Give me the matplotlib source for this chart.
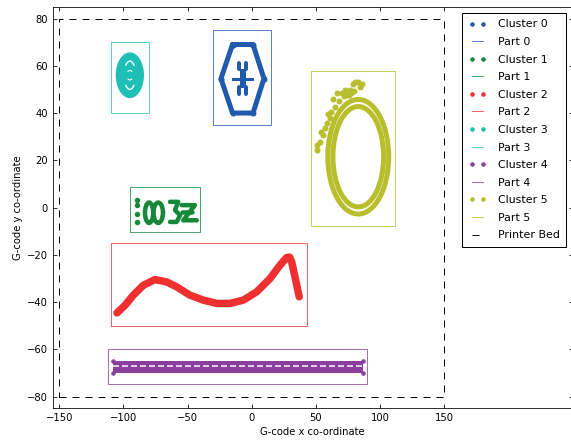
import matplotlib
matplotlib.use("Agg")
import matplotlib.pyplot as plt
from matplotlib.patches import Ellipse, Arc
from matplotlib.lines import Line2D

# =========================================
# DATA
# =========================================
cluster_colors = ["#1f5aab", "#17873a", "#ee3030", "#1fbfb5", "#8a3f9e", "#b8be2c"]
cluster_names = ["Cluster 0", "Cluster 1", "Cluster 2", "Cluster 3", "Cluster 4", "Cluster 5"]
part_names = ["Part 0", "Part 1", "Part 2", "Part 3", "Part 4", "Part 5"]

# bounding boxes of the parts: x0, x1, y0, y1
part_x0 = [-30, -95, -110, -110, -112, 46]
part_x1 = [15, -40, 43, -80, 90, 112]
part_y0 = [35, -10.5, -50, 40, -74.5, -8]
part_y1 = [75, 8.5, -15, 70, -60, 58]

# printer bed
bed_x = [-150, 150, 150, -150, -150]
bed_y = [-80, -80, 80, 80, -80]

# cluster 0 - hexagon with a small flower in the middle
c0_hex_x = [-15, 1, 9.5, 1, -15, -24, -15]
c0_hex_y = [69, 69, 54.6, 40, 40, 54.6, 69]
c0_arm_x = [-14.5, 0.5]
c0_arm_y = [54.6, 54.6]
c0_bar_x = [-7.0, -7.0]
c0_bar_y = [51.8, 57.4]
c0_blob_x = [-9.9, -4.2, -9.9, -4.2]
c0_blob_y = [59.9, 59.9, 49.5, 49.5]

# cluster 1 - dots, two ovals, "3" and "z"
c1_dot_x = [-89.2, -89.2, -89.2, -89.2]
c1_dot_y = [3.1, 1.0, -2.6, -6.1]
c1_oval_x = [-80.0, -72.9]
c1_oval_y = [-2.2, -2.2]
c1_oval_w = [6.4, 7.4]
c1_oval_h = [8.6, 8.6]
c1_three_x = [-63.7, -57.3, -59.8, -55.9, -58.5, -63.7]
c1_three_y = [2.4, 2.4, -1.1, -3.3, -6.1, -6.1]
c1_z_x = [-54.6, -44.3, -53.4, -42.9]
c1_z_y = [1.0, 1.0, -5.4, -5.4]
c1_mid_x = [-54.6, -46.8]
c1_mid_y = [-1.9, -1.9]

# cluster 2 - curve
c2_x = [-105, -98.8, -92.3, -84.5, -75.4, -66.3, -58.5, -48.2, -37.8, -27.3,
        -17.0, -6.6, 3.8, 14.2, 22.0, 27.2, 29.5, 31.1, 33.7, 37.0]
c2_y = [-44.6, -41.4, -37.1, -32.9, -30.5, -31.5, -33.6, -37.1, -39.2, -40.6,
        -40.6, -39.2, -35.7, -30.1, -24.4, -21.2, -21.0, -23.0, -29.4, -37.8]

# cluster 3 - filled oval
c3_cx = -95
c3_cy = 56
c3_w = 22
c3_h = 19.4

# cluster 4 - long bar
c4_x = [-108, 87]
c4_y = [-67.4, -67.4]
c4_corner_x = [-108, 87, -108, 87]
c4_corner_y = [-64.8, -64.8, -70.0, -70.0]

# cluster 5 - double ring with stray points
c5_cx = 83
c5_cy = 21.5
c5_ring_w = [47.5, 39.5]
c5_ring_h = [48.5, 42.5]
c5_stray_x = [51.0, 50.6, 53.2, 55.3, 53.7, 58.4, 60.9, 59.6, 64.8, 63.5,
              66.2, 70.1, 72.6, 76.5, 79.1, 80.4, 83.0, 85.6, 84.3, 74, 77, 80,
              57.0, 62.0, 68.0, 71.5, 75.5]
c5_stray_y = [24.3, 26.4, 27.8, 30.6, 32.0, 35.6, 37.7, 39.8, 42.6, 46.1,
              48.3, 48.3, 49.7, 49.7, 52.5, 53.2, 53.2, 52.5, 51.0, 47.5, 48.5, 49.5,
              33.5, 40.5, 45.0, 47.0, 47.5]

# =========================================
# FIGURE
# =========================================
plt.rcParams["font.family"] = "DejaVu Sans"
fig = plt.figure(figsize=(571 / 72, 443 / 72), dpi=72)
ax = fig.add_axes([0.0926, 0.0783, 0.9101, 0.9065])

handles = []

for i in range(6):
    col = cluster_colors[i]

    if i == 0:
        ax.plot(c0_hex_x, c0_hex_y, color=col, lw=5, marker="o", ms=5,
                solid_capstyle="round", solid_joinstyle="round")
        ax.plot(c0_arm_x, c0_arm_y, color=col, lw=3)
        ax.plot(c0_bar_x, c0_bar_y, color=col, lw=6)
        for bx, by in zip(c0_blob_x, c0_blob_y):
            ax.plot([bx, bx], [by - 1.4, by + 1.4], color=col, lw=4,
                    solid_capstyle="round")
    elif i == 1:
        ax.plot(c1_dot_x, c1_dot_y, "o", color=col, ms=4.5)
        for ox, oy, ow, oh in zip(c1_oval_x, c1_oval_y, c1_oval_w, c1_oval_h):
            ax.add_patch(Ellipse((ox, oy), ow, oh, fill=False, ec=col, lw=4.5))
        ax.plot(c1_three_x, c1_three_y, color=col, lw=4.5, solid_capstyle="round")
        ax.plot(c1_z_x, c1_z_y, color=col, lw=4.5, solid_capstyle="round")
        ax.plot(c1_mid_x, c1_mid_y, color=col, lw=4.5, solid_capstyle="round")
    elif i == 2:
        ax.plot(c2_x, c2_y, color=col, lw=7.5, solid_capstyle="round",
                solid_joinstyle="round")
    elif i == 3:
        ax.add_patch(Ellipse((c3_cx, c3_cy), c3_w, c3_h, color=col, lw=0))
        ax.add_patch(Arc((c3_cx, c3_cy), 9, 12, theta1=50, theta2=130,
                         color="white", lw=1.3))
        ax.add_patch(Arc((c3_cx, c3_cy), 9, 12, theta1=230, theta2=310,
                         color="white", lw=1.3))
        ax.add_patch(Arc((c3_cx, c3_cy), 5, 4, theta1=40, theta2=140,
                         color="white", lw=1.0))
        ax.add_patch(Arc((c3_cx, c3_cy), 5, 4, theta1=220, theta2=320,
                         color="white", lw=1.0))
    elif i == 4:
        ax.plot(c4_x, c4_y, color=col, lw=12, solid_capstyle="butt")
        ax.plot(c4_x, [c4_y[0] + 0.4] * 2, color="white", lw=1.5,
                dashes=(4, 2))
        ax.plot(c4_corner_x, c4_corner_y, "o", color=col, ms=3.5)
    elif i == 5:
        for rw, rh in zip(c5_ring_w, c5_ring_h):
            ax.add_patch(Ellipse((c5_cx, c5_cy), rw, rh, fill=False, ec=col, lw=5))
        ax.plot(c5_stray_x, c5_stray_y, "o", color=col, ms=5)

    # legend entries
    handles.append(Line2D([], [], ls="none", marker="o", ms=3.5, color=col,
                          label=cluster_names[i]))

    px = [part_x0[i], part_x1[i], part_x1[i], part_x0[i], part_x0[i]]
    py = [part_y0[i], part_y0[i], part_y1[i], part_y1[i], part_y0[i]]
    line, = ax.plot(px, py, color=col, alpha=0.75, lw=1, label=part_names[i])
    handles.append(line)

bed, = ax.plot(bed_x, bed_y, color="black", lw=1, dashes=(7, 6),
               label="Printer Bed")
handles.append(bed)

# =========================================
# AXES
# =========================================
ax.set_xlim(-155, 250)
ax.set_ylim(-85, 85)
ax.set_xticks([-150, -100, -50, 0, 50, 100, 150])
ax.set_yticks([-80, -60, -40, -20, 0, 20, 40, 60, 80])
ax.tick_params(direction="in", top=True, right=True, length=4,
               labelsize=10, pad=5)

ax.set_xlabel("G-code x co-ordinate", fontsize=10)
ax.set_ylabel("G-code y co-ordinate", fontsize=10)

leg = ax.legend(handles=handles, loc="upper right", numpoints=2,
                fontsize=11, handlelength=1.6, handletextpad=1.1,
                labelspacing=0.69, borderpad=0.55, borderaxespad=0.6,
                fancybox=False, framealpha=1, edgecolor="black")
leg.get_frame().set_linewidth(1)

plt.savefig("out.png", dpi=72)
